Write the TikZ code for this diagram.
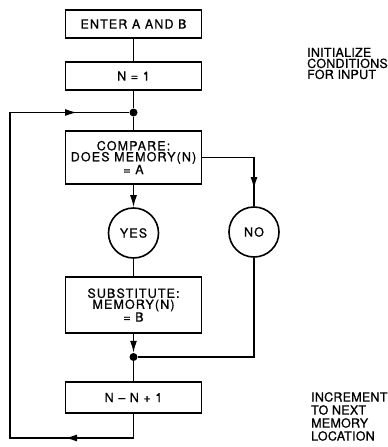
\documentclass[tikz,border=0pt]{standalone}
\usepackage{fontspec}
\setmainfont[LetterSpace=9, FakeBold=0.8]{TeX Gyre Heros}
\newfontfamily\notefont[LetterSpace=2, FakeBold=0.8]{TeX Gyre Heros}
\usepackage{tikz}
\usetikzlibrary{arrows.meta, positioning}
\tikzset{
    stepbox/.style={draw, line width=1.7pt, minimum width=136pt, align=center, inner sep=1pt, font=\fontsize{12.5}{11}\selectfont},
    answer/.style={draw, circle, line width=1.6pt, minimum size=50pt, inner sep=0pt, font=\fontsize{12.5}{11}\selectfont},
    joint/.style={circle, fill, minimum size=8pt, inner sep=0pt},
    flowline/.style={line width=1.4pt},
    flowarrow/.style={-{Latex[length=12pt,width=7pt]}, line width=1.4pt},
    sidenote/.style={anchor=west, align=left, inner sep=0pt, font=\notefont\fontsize{12.5}{11}\selectfont}
}
\begin{document}
\begin{tikzpicture}[x=1pt,y=-1pt]
    \useasboundingbox (0,0) rectangle (388,447);
    % boxes and decisions
    \node[stepbox, minimum height=28pt] (enter) at (133.5,24) {ENTER A AND B};
    \node[stepbox, minimum height=28pt] (init) at (133.5,76) {N = 1};
    \node[joint] (j1) at (133.5,112.5) {};
    \node[stepbox, minimum height=53pt] (compare) at (133.5,157.5) {COMPARE:\\DOES MEMORY(N)\\= A};
    \node[answer] (yes) at (133.5,233) {YES};
    \node[answer] (no) at (254,232) {NO};
    \node[stepbox, minimum height=56pt] (subst) at (133.5,305) {SUBSTITUTE:\\MEMORY(N)\\= B};
    \node[joint] (j2) at (133.5,357) {};
    \node[stepbox, minimum height=31pt] (incr) at (133.5,397.5) {N \textendash{} N + 1};
    % side notes
    \node[sidenote] (initnote) at (307,63.5) {INITIALIZE\\CONDITIONS\\FOR INPUT};
    \node[sidenote, font=\notefont\fontsize{12.5}{13}\selectfont] (incrnote) at (311,416.5) {INCREMENT\\TO NEXT\\MEMORY\\LOCATION};
    % loop corners
    \coordinate (lb) at (10,438);
    \coordinate (lt) at (10,112.5);
    \coordinate (ba) at (65,438);
    \coordinate (ta) at (77,112.5);
    \coordinate (na) at (254,189);
    % connectors
    \draw[flowline] (enter) -- (init);
    \draw[flowline] (init) -- (j1);
    \draw[flowline] (j1) -- (compare);
    \draw[flowarrow] (compare) -- (yes);
    \draw[flowline] (compare.east) -| (no);
    \draw[flowarrow] (compare.east -| no) -- (na);
    \draw[flowline] (yes) -- (subst);
    \draw[flowarrow] (subst) -- (j2);
    \draw[flowline] (no) |- (j2);
    \draw[flowline] (j2) -- (incr);
    \draw[flowline] (incr) |- (lb) -- (lt) -- (j1);
    \draw[flowarrow] (incr.south |- lb) -- (ba);
    \draw[flowarrow] (lt) -- (ta);
\end{tikzpicture}
\end{document}
